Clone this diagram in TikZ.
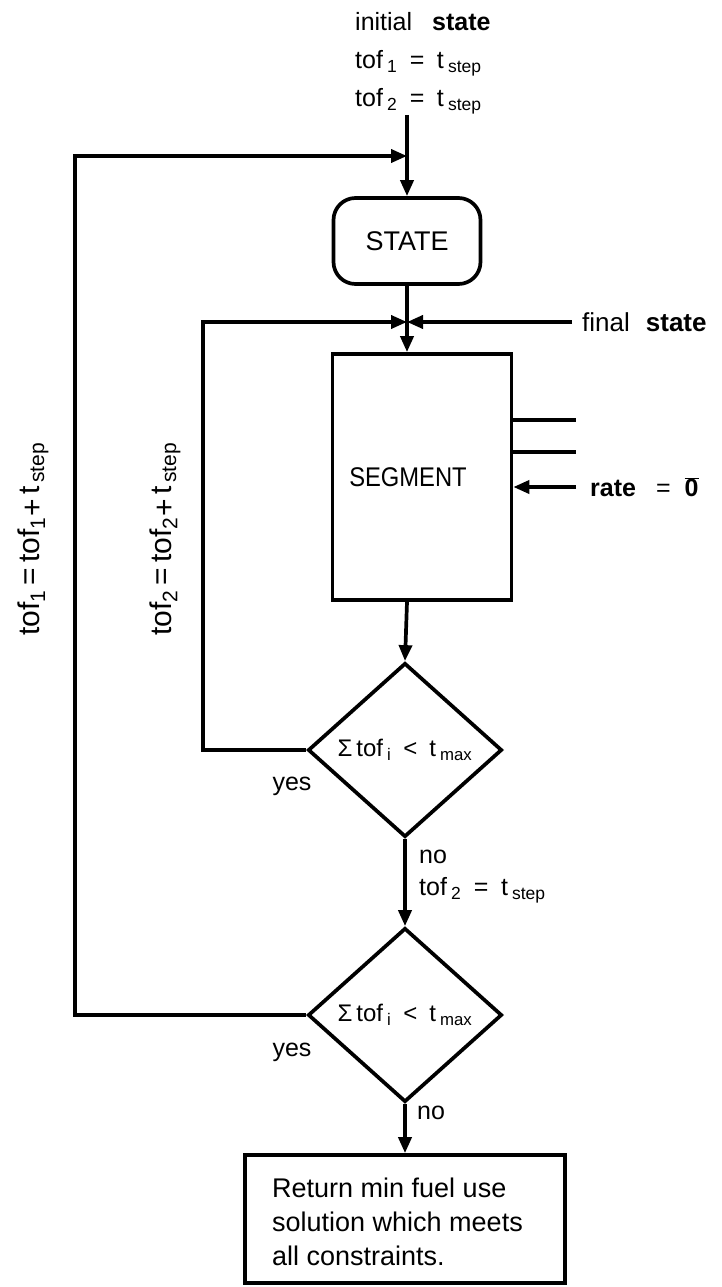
\documentclass[tikz,border=0pt]{standalone}
\usepackage{fontspec}
\setmainfont{Liberation Sans}
\usepackage{graphicx}
\usetikzlibrary{arrows.meta,shapes.geometric}
\newcommand{\fs}[1]{\fontsize{#1}{#1}\selectfont}
\tikzset{
  ln/.style={line width=3.7pt},
  arr/.style={ln,-{Triangle[length=16pt,width=13pt]}},
  box/.style={draw,line width=3.7pt,inner sep=0pt},
  dia/.style={draw,diamond,line width=3.7pt,inner sep=0pt,minimum width=194pt,minimum height=174pt,font=\fs{24}},
  lbl/.style={inner sep=0pt,font=\fs{25}},
}
\begin{document}
\begin{tikzpicture}[x=1pt,y=-1pt]
\useasboundingbox (0,0) rectangle (722,1287);
% top label
\node[lbl,anchor=north west,align=left,font=\fontsize{25}{38}\selectfont] (init) at (355,12)
  {initial\hspace{20pt}\textbf{state}\\ tof\,\textsubscript{1}\enspace=\enspace t\,\textsubscript{step}\\ tof\,\textsubscript{2}\enspace=\enspace t\,\textsubscript{step}};
% nodes
\node[box,rounded corners=22pt,minimum width=147pt,minimum height=86pt,font=\fs{27}] (state) at (407,241) {STATE};
\node[box,minimum width=179pt,minimum height=246pt] (seg) at (422,477) {};
\node[lbl,font=\fs{27}] (segtxt) at (408,477) {\scalebox{0.88}[1]{SEGMENT}};
\node[dia] (d1) at (405,750) {Σ\,tof\,\textsubscript{i}\enspace<\enspace t\,\textsubscript{max}};
\node[dia] (d2) at (405,1015) {Σ\,tof\,\textsubscript{i}\enspace<\enspace t\,\textsubscript{max}};
\node[box,minimum width=320pt,minimum height=128pt] (ret) at (405,1219) {};
\node[lbl,anchor=north west,align=left,font=\fontsize{27}{34}\selectfont] (rettxt) at (272,1178)
  {Return min fuel use\\ solution which meets\\ all constraints.};
% coordinates
\coordinate (top) at (407,115);
\coordinate (j1) at (407,156);
\coordinate (j2) at (407,322);
\coordinate (l1) at (75,156);
\coordinate (l2) at (203,322);
\coordinate (fin) at (572,322);
\coordinate (s1) at (576,420);
\coordinate (s2) at (576,452);
\coordinate (rt) at (576,487);
% connectors
\draw[ln] (top) -- (j1);
\draw[arr] (j1) -- (state.north);
\draw[ln] (state.south) -- (j2);
\draw[arr] (j2) -- (seg.north -| j2);
\draw[arr] (d2.west) -| (l1) -- (j1);
\draw[arr] (d1.west) -| (l2) -- (j2);
\draw[arr] (fin) -- (j2);
\draw[ln] (seg.east |- s1) -- (s1);
\draw[ln] (seg.east |- s2) -- (s2);
\draw[arr] (rt) -- (seg.east |- rt);
\draw[arr] (seg.south -| j2) -- (d1.north);
\draw[arr] (d1.south) -- (d2.north);
\draw[arr] (d2.south) -- (ret.north);
% labels
\node[lbl,anchor=west,font=\fs{26}] (finlbl) at (582,322) {final\hspace{16pt}\textbf{state}};
\node[lbl,anchor=west,font=\fs{25}] (ratelbl) at (590,487) {\textbf{rate}\hspace{20pt}=\hspace{14pt}$\overline{\mbox{\textbf{0}}}$};
\node[lbl] (yes1) at (292,786) {yes};
\node[lbl] (yes2) at (292,1052) {yes};
\node[lbl,anchor=west] (no1) at (419,857) {no};
\node[lbl,anchor=west] (tof2) at (419,890) {tof\,\textsubscript{2}\enspace=\enspace t\,\textsubscript{step}};
\node[lbl,anchor=west] (no2) at (417,1113) {no};
\node[lbl,rotate=90,font=\fs{30}] (lab1) at (33,539) {tof\textsubscript{1}\,=\,tof\textsubscript{1}\raisebox{-3pt}{+}\,t\textsubscript{\,step}};
\node[lbl,rotate=90,font=\fs{30}] (lab2) at (165,539) {tof\textsubscript{2}\,=\,tof\textsubscript{2}\raisebox{-3pt}{+}\,t\textsubscript{\,step}};
\end{tikzpicture}
\end{document}
